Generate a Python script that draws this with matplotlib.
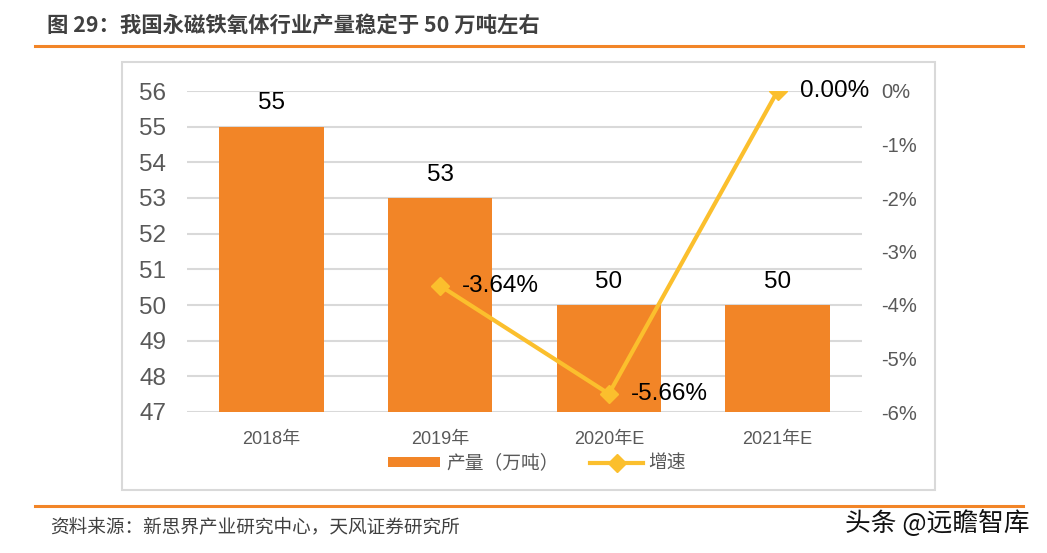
import matplotlib
matplotlib.use("Agg")
import matplotlib.pyplot as plt
from matplotlib.patches import Rectangle
from matplotlib.lines import Line2D
from matplotlib.ticker import FuncFormatter

plt.rcParams['font.family'] = ['Liberation Sans', 'Noto Sans CJK SC', 'DejaVu Sans']

categories = ['2018年', '2019年', '2020年E', '2021年E']
output_vals = [55, 53, 50, 50]
growth_x = ['2019年', '2020年E', '2021年E']
growth_vals = [-3.64, -5.66, 0.00]
growth_labels = ['-3.64%', '-5.66%', '0.00%']

BAR = '#F28527'
LINE = '#FBBF2D'
GRID = '#D9D9D9'
TICK = '#595959'

W, H = 1047, 553
fig = plt.figure(figsize=(W / 100, H / 100), dpi=100)

def fx(px):
    return px / W

def fy(py):
    return 1 - py / H

CJK = ['Noto Sans CJK SC', 'DejaVu Sans']

# title and rules
fig.text(fx(47), fy(25), '图 29：我国永磁铁氧体行业产量稳定于 50 万吨左右', fontsize=15.4,
         fontweight='bold', color='#404040', va='center', ha='left', family=CJK)
fig.add_artist(Line2D([fx(35), fx(1023)], [fy(46), fy(46)], color='#F28527', lw=2.2,
                      transform=fig.transFigure))
fig.add_artist(Line2D([fx(35), fx(1023)], [fy(506), fy(506)], color='#F28527', lw=2.2,
                      transform=fig.transFigure))
fig.text(fx(50), fy(527), '资料来源：新思界产业研究中心，天风证券研究所', fontsize=13.4,
         color='#404040', va='center', ha='left', family=CJK)
fig.text(fx(1030), fy(523), '头条 @远瞻智库', fontsize=18.5, color='#111111', va='center',
         ha='right', family=CJK)

# chart box
fig.add_artist(Rectangle((fx(122), fy(490)), fx(935 - 122), (490 - 62) / H, transform=fig.transFigure,
                         fill=False, edgecolor='#D9D9D9', lw=1.5))

ax = fig.add_axes([fx(187), fy(412), fx(862 - 187), (412 - 91) / H])
x = list(range(len(categories)))
ax.bar(x, output_vals, width=0.62, color=BAR, zorder=2, label='产量（万吨）')
ax.set_ylim(47, 56)
ax.set_xlim(-0.5, len(categories) - 0.5)
ax.set_yticks(range(47, 57))
ax.yaxis.grid(True, color=GRID, lw=1.5, zorder=0)
ax.set_axisbelow(True)
for s in ax.spines.values():
    s.set_visible(False)
ax.tick_params(axis='y', length=0, labelsize=17.5, labelcolor=TICK, pad=15)
ax.tick_params(axis='x', length=0, labelsize=13, labelcolor=TICK, pad=14)
ax.set_xticks(x)
ax.set_xticklabels(categories)
for xi, v in zip(x, output_vals):
    ax.text(xi, v + 0.35, f'{v}', ha='center', va='bottom', fontsize=17.5, color='black')

ax2 = ax.twinx()
gx = [categories.index(c) for c in growth_x]
ax2.plot(gx, growth_vals, color=LINE, lw=3, marker='D', markersize=9, zorder=3,
         label='增速')
ax2.set_ylim(-6, 0)
ax2.set_yticks(range(-6, 1))
ax2.yaxis.set_major_formatter(FuncFormatter(lambda v, p: f'{int(v)}%'))
for s in ax2.spines.values():
    s.set_visible(False)
ax2.tick_params(axis='y', length=0, labelsize=14.5, labelcolor=TICK, pad=14)
for xi, v, lab in zip(gx, growth_vals, growth_labels):
    ax2.text(xi + 0.13, v, lab, ha='left', va='center', fontsize=17.5, color='black')

h1, l1 = ax.get_legend_handles_labels()
h2, l2 = ax2.get_legend_handles_labels()
leg = fig.legend(h1 + h2, l1 + l2, loc='center', bbox_to_anchor=(fx(537), fy(463)), ncol=2,
                 frameon=False, handlelength=2.8, handleheight=0.5, handletextpad=0.3,
                 columnspacing=1.7, prop={'family': CJK, 'size': 13.5})
for t in leg.get_texts():
    t.set_color(TICK)

fig.savefig('out.png', dpi=100)
